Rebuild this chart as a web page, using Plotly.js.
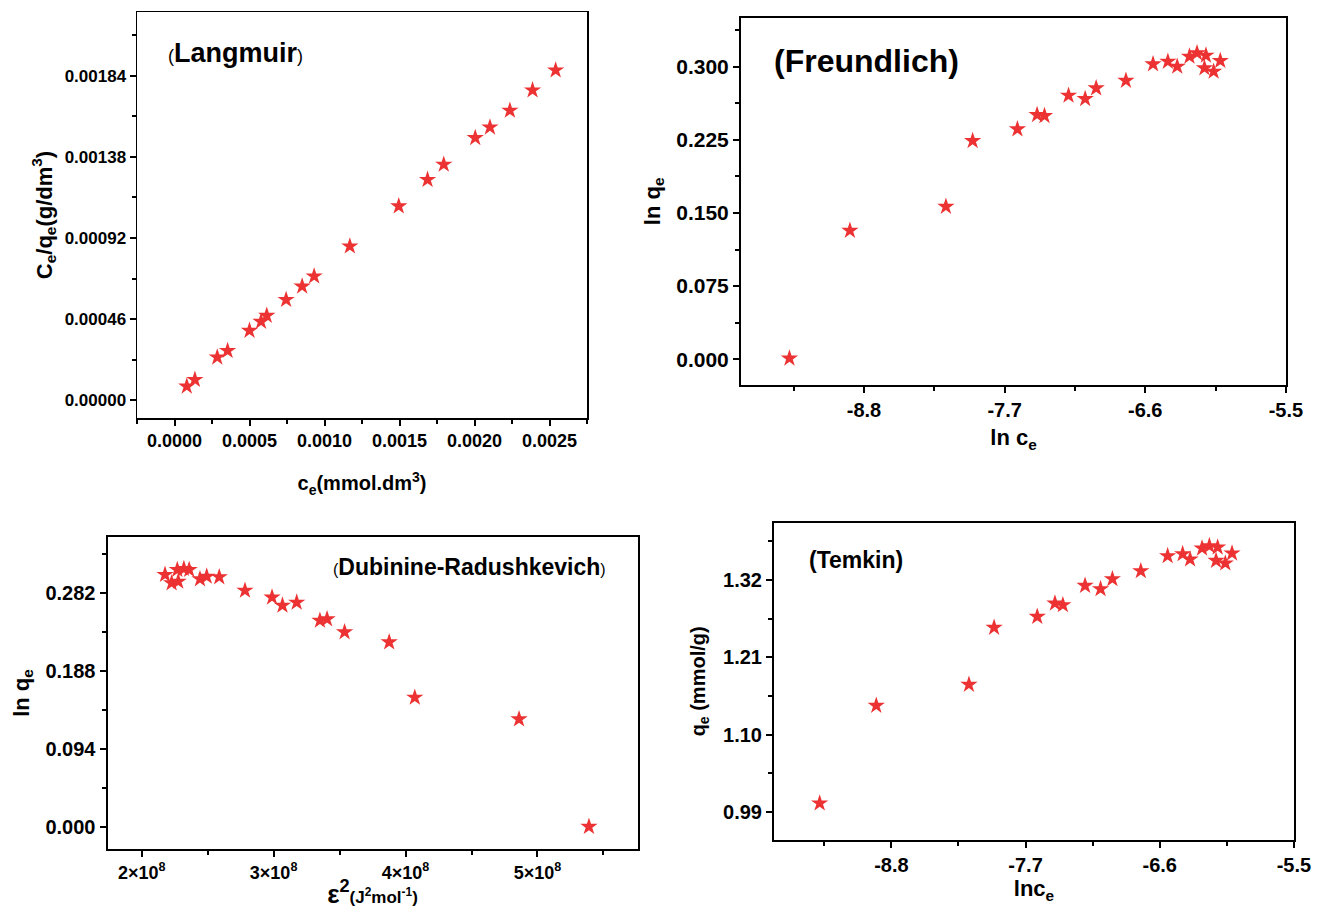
<!DOCTYPE html>
<html><head><meta charset="utf-8">
<script src="https://cdn.plot.ly/plotly-3.0.1.min.js"></script>
<style>html,body{margin:0;padding:0;background:#fff}</style>
</head><body><div id="chart" style="width:1325px;height:909px"></div>
<script>
// ---- Langmuir ----
const langCe = [0.000082,0.000136,0.000285,0.000354,0.000500,0.000577,0.000615,0.000744,0.000851,0.000931,0.001169,0.001495,0.001687,0.001795,0.002005,0.002103,0.002236,0.002387,0.002541];
const langCeQe = [0.0000793,0.000117,0.000244,0.000281,0.000395,0.000446,0.000480,0.000570,0.000646,0.000703,0.000873,0.001100,0.001250,0.001336,0.001487,0.001547,0.001642,0.001757,0.001870];
// ---- Freundlich ----
const freLnCe = [-9.383,-8.910,-8.159,-7.950,-7.600,-7.446,-7.388,-7.200,-7.070,-6.984,-6.751,-6.539,-6.423,-6.350,-6.254,-6.195,-6.125,-6.137,-6.065,-6.013];
const freLnQe = [0.001,0.1319,0.1565,0.2238,0.2358,0.2505,0.2494,0.2703,0.2669,0.2778,0.2856,0.3025,0.3051,0.3000,0.3103,0.3137,0.3113,0.2984,0.2949,0.3059];
const lnTickVals = [-8.8,-7.7,-6.6,-5.5];
const lnTickText = ['-8.8','-7.7','-6.6','-5.5'];
// ---- Dubinin-Radushkevich ----
const drEps2 = [2.177e8,2.227e8,2.277e8,2.270e8,2.320e8,2.360e8,2.442e8,2.493e8,2.588e8,2.783e8,2.988e8,3.067e8,3.175e8,3.351e8,3.405e8,3.538e8,3.876e8,4.070e8,4.860e8,5.390e8];
const drLnQe = [0.3041,0.2941,0.2960,0.3101,0.3113,0.3101,0.2989,0.3020,0.3013,0.2851,0.2768,0.2671,0.2707,0.2490,0.2507,0.2350,0.2229,0.1563,0.1302,0.0008];
const drTickVals = [2e8,3e8,4e8,5e8];
const drTickText = ['2×10<sup>8</sup>','3×10<sup>8</sup>','4×10<sup>8</sup>','5×10<sup>8</sup>'];
// ---- Temkin ----
const temLnCe = [-9.388,-8.924,-8.164,-7.958,-7.604,-7.459,-7.394,-7.212,-7.085,-6.988,-6.755,-6.535,-6.412,-6.351,-6.253,-6.193,-6.125,-6.138,-6.062,-6.007];
const temQe = [1.0023,1.1413,1.1711,1.2522,1.2678,1.2868,1.2844,1.3119,1.3072,1.3214,1.3328,1.3542,1.3570,1.3495,1.3651,1.3684,1.3665,1.3475,1.3438,1.3580];

const W = 1325, H = 909;
const FAM = 'Liberation Sans, Arial, sans-serif';
const RED = '#EC3232';
function dx(l, r) { return [l / W, r / W]; }
function dy(t, b) { return [1 - b / H, 1 - t / H]; }

function axis(opts) {
  const a = {
    domain: opts.domain, range: opts.range, anchor: opts.anchor,
    showline: true, mirror: true, linecolor: '#000', linewidth: opts.lw || 2,
    showgrid: false, zeroline: false,
    ticks: 'outside', ticklen: 6, tickwidth: 2, tickcolor: '#000',
    tickfont: {family: FAM, size: opts.tfs, color: '#000', weight: 'bold'},
    title: {text: opts.title, font: {family: FAM, size: opts.ttfs, color: '#000', weight: 'bold'}, standoff: opts.standoff},
    minor: {ticks: 'outside', ticklen: 4, tickwidth: 2, tickcolor: '#000', tickmode: 'linear', tick0: opts.tick0, dtick: opts.dtick / 2},
    automargin: false
  };
  if (opts.tickvals) { a.tickmode = 'array'; a.tickvals = opts.tickvals; a.ticktext = opts.ticktext; }
  else { a.tickmode = 'linear'; a.tick0 = opts.tick0; a.dtick = opts.dtick; a.tickformat = opts.fmt; }
  return a;
}

const mk = {symbol: 'star', size: 13, color: RED, line: {width: 0}};
const traces = [
  {x: langCe, y: langCeQe, xaxis: 'x', yaxis: 'y', mode: 'markers', type: 'scatter', marker: mk, name: 'Langmuir'},
  {x: freLnCe, y: freLnQe, xaxis: 'x2', yaxis: 'y2', mode: 'markers', type: 'scatter', marker: mk, name: 'Freundlich'},
  {x: drEps2, y: drLnQe, xaxis: 'x3', yaxis: 'y3', mode: 'markers', type: 'scatter', marker: mk, name: 'Dubinin-Radushkevich'},
  {x: temLnCe, y: temQe, xaxis: 'x4', yaxis: 'y4', mode: 'markers', type: 'scatter', marker: mk, name: 'Temkin'}
];

const layout = {
  width: W, height: H, margin: {l: 0, r: 0, t: 0, b: 0},
  paper_bgcolor: '#fff', plot_bgcolor: '#fff', showlegend: false,
  font: {family: FAM, color: '#000'},
  xaxis: axis({domain: dx(137, 587), range: [-0.00025, 0.00275], anchor: 'y', lw: 1.5, tick0: 0, dtick: 0.0005, fmt: '.4f', tfs: 18, ttfs: 20,
    title: 'c<sub>e</sub>(mmol.dm<sup>3</sup>)', standoff: 26}),
  yaxis: axis({domain: dy(12, 418), range: [-0.0001, 0.0022], anchor: 'x', lw: 1.5, tick0: 0, dtick: 0.00046, fmt: '.5f', tfs: 17, ttfs: 22,
    title: 'C<sub>e</sub>/q<sub>e</sub>(g/dm<sup>3</sup>)', standoff: 6}),
  xaxis2: axis({domain: dx(741, 1286), range: [-9.762, -5.499], anchor: 'y2', tick0: -8.8, dtick: 1.1, tickvals: lnTickVals, ticktext: lnTickText, tfs: 20, ttfs: 22,
    title: 'ln c<sub>e</sub>', standoff: 10}),
  yaxis2: axis({domain: dy(17.7, 385), range: [-0.0263, 0.350], anchor: 'x2', tick0: 0, dtick: 0.075, fmt: '.3f', tfs: 21, ttfs: 22,
    title: 'ln q<sub>e</sub>', standoff: 10}),
  xaxis3: axis({domain: dx(107.5, 637.5), range: [1.741e8, 5.758e8], anchor: 'y3', tick0: 2e8, dtick: 1e8, tickvals: drTickVals, ticktext: drTickText, tfs: 18, ttfs: 26,
    title: 'ε<sup>2</sup><span style="font-size:17px">(J<sup>2</sup>mol<sup>-1</sup>)</span>', standoff: 4}),
  yaxis3: axis({domain: dy(537, 849), range: [-0.0261, 0.3495], anchor: 'x3', tick0: 0, dtick: 0.094, fmt: '.3f', tfs: 20, ttfs: 22,
    title: 'ln q<sub>e</sub>', standoff: 10}),
  xaxis4: axis({domain: dx(774, 1294), range: [-9.7625, -5.499], anchor: 'y4', tick0: -8.8, dtick: 1.1, tickvals: lnTickVals, ticktext: lnTickText, tfs: 20, ttfs: 22,
    title: 'lnc<sub>e</sub>', standoff: 6}),
  yaxis4: axis({domain: dy(522.7, 840), range: [0.950, 1.4015], anchor: 'x4', tick0: 0.99, dtick: 0.11, fmt: '.2f', tfs: 20, ttfs: 20,
    title: 'q<sub>e</sub> (mmol/g)', standoff: 12}),
  annotations: [
    {xref: 'paper', yref: 'paper', x: 166 / W, y: 1 - 53 / H, xanchor: 'left', yanchor: 'middle', showarrow: false,
     text: '<span style="font-size:18px;font-weight:normal">(</span>Langmuir<span style="font-size:18px;font-weight:normal">)</span>',
     font: {family: FAM, size: 27, color: '#000', weight: 'bold'}},
    {xref: 'paper', yref: 'paper', x: 772 / W, y: 1 - 61 / H, xanchor: 'left', yanchor: 'middle', showarrow: false,
     text: '(Freundlich)', font: {family: FAM, size: 32, color: '#000', weight: 'bold'}},
    {xref: 'paper', yref: 'paper', x: 331 / W, y: 1 - 567 / H, xanchor: 'left', yanchor: 'middle', showarrow: false,
     text: '<span style="font-size:16px;font-weight:normal">(</span>Dubinine-Radushkevich<span style="font-size:16px;font-weight:normal">)</span>',
     font: {family: FAM, size: 23, color: '#000', weight: 'bold'}},
    {xref: 'paper', yref: 'paper', x: 807 / W, y: 1 - 560 / H, xanchor: 'left', yanchor: 'middle', showarrow: false,
     text: '(Temkin)', font: {family: FAM, size: 23, color: '#000', weight: 'bold'}}
  ]
};

Plotly.newPlot('chart', traces, layout, {displayModeBar: false, staticPlot: true});
</script>
</body></html>
